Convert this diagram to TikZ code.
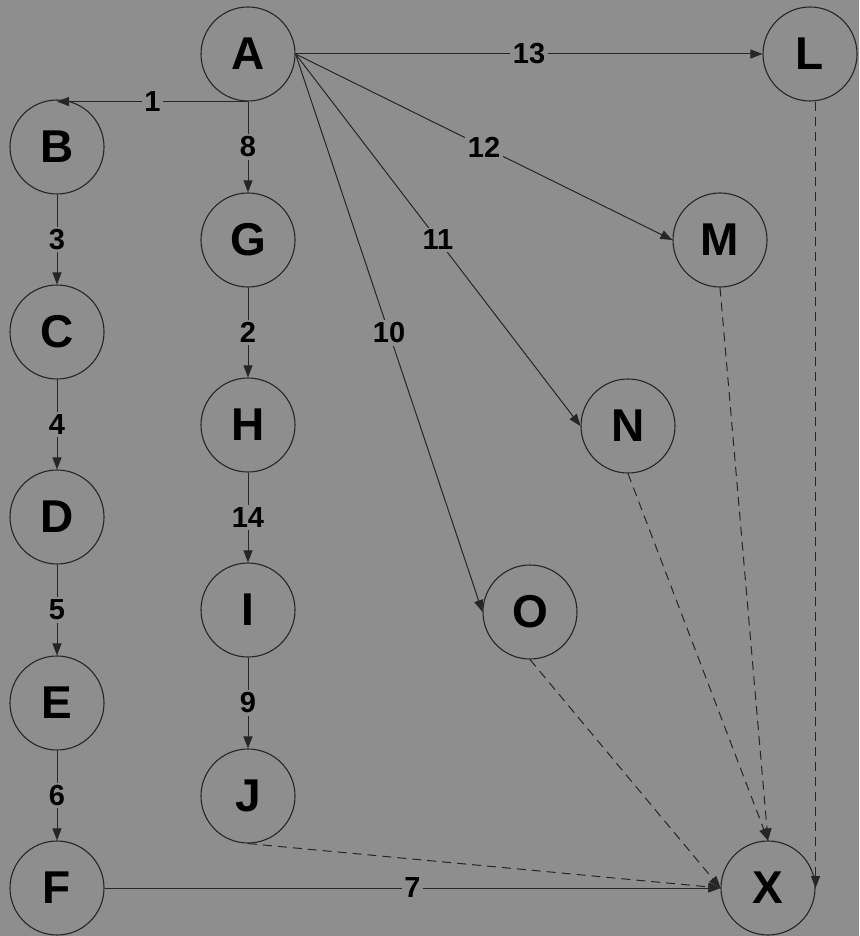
\documentclass[tikz,border=0pt]{standalone}
\usepackage{fontspec}
\setmainfont{Liberation Sans}
\usetikzlibrary{arrows.meta}
\definecolor{bg}{RGB}{142,142,142}
\definecolor{ink}{RGB}{38,38,38}
\begin{document}
\begin{tikzpicture}[x=1pt,y=-1pt,
  state/.style={circle,draw=ink,line width=1.1pt,minimum size=94pt,inner sep=0pt,font=\fontsize{46}{46}\selectfont\bfseries,text=black},
  lbl/.style={fill=bg,inner sep=2.5pt,font=\fontsize{29}{29}\selectfont\bfseries,text=black},
  edge/.style={draw=ink,line width=1pt,-{Triangle[length=12pt,width=9pt]}},
  dedge/.style={edge,dash pattern=on 9pt off 6pt}]
\fill[bg] (0,0) rectangle (859,936);
\useasboundingbox (0,0) rectangle (859,936);
% left columns
\node[state] (A) at (248,54) {A};
\node[state] (B) at (57,147) {B};
\node[state] (G) at (248,240) {G};
\node[state] (C) at (57,332) {C};
\node[state] (H) at (248,425) {H};
\node[state] (D) at (57,517) {D};
\node[state] (I) at (248,610) {I};
\node[state] (E) at (57,703) {E};
\node[state] (J) at (248,796) {J};
\node[state] (F) at (57,888) {F};
% right nodes
\node[state] (L) at (810,54) {L};
\node[state] (M) at (720,240) {M};
\node[state] (N) at (628,426) {N};
\node[state] (O) at (530,612) {O};
\node[state] (X) at (768,888) {X};
% solid edges
\draw[edge] (A.south) -- node[lbl]{1} (A.south -| B.north);
\draw[edge] (A.south) -- node[lbl]{8} (G.north);
\draw[edge] (A.east) -- node[lbl]{13} (L.west);
\draw[edge] (A.east) -- node[lbl]{12} (M.west);
\draw[edge] (A.east) -- node[lbl]{11} (N.west);
\draw[edge] (A.east) -- node[lbl]{10} (O.west);
\draw[edge] (B.south) -- node[lbl]{3} (C.north);
\draw[edge] (C.south) -- node[lbl]{4} (D.north);
\draw[edge] (D.south) -- node[lbl]{5} (E.north);
\draw[edge] (E.south) -- node[lbl]{6} (F.north);
\draw[edge] (G.south) -- node[lbl]{2} (H.north);
\draw[edge] (H.south) -- node[lbl]{14} (I.north);
\draw[edge] (I.south) -- node[lbl]{9} (J.north);
\draw[edge] (F.east) -- node[lbl]{7} (X.west);
% dashed edges
\draw[dedge] (J.south) -- (X.west);
\draw[dedge] (O.south) -- (X.west);
\draw[dedge] (N.south) -- (X.north);
\draw[dedge] (M.south) -- (X.north);
\draw[dedge] (L.south -| X.east) -- (X.east);
\end{tikzpicture}
\end{document}
